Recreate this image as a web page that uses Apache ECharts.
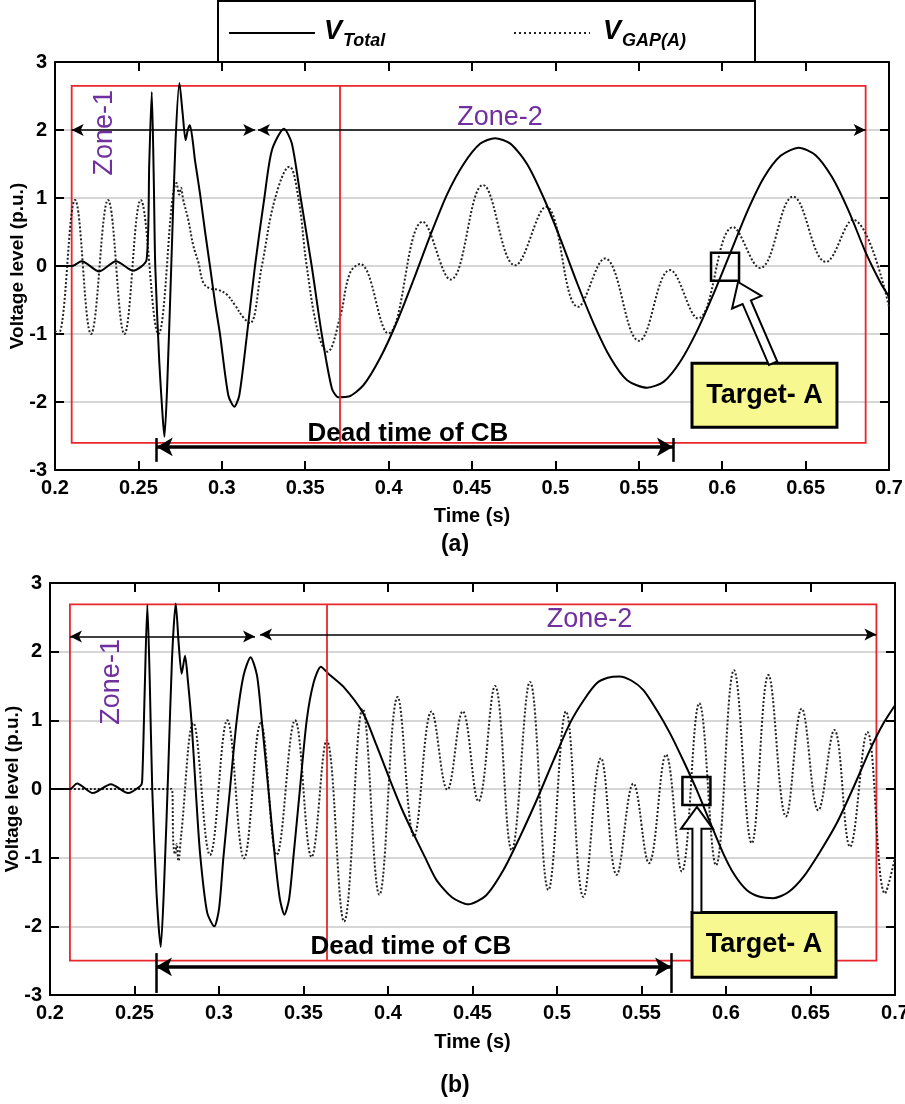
<!DOCTYPE html>
<html><head><meta charset="utf-8">
<script src="https://cdn.jsdelivr.net/npm/echarts@6/dist/echarts.min.js"></script>
<style>html,body{margin:0;padding:0;background:#fff}#main{width:905px;height:1104px}</style>
</head><body><div id="main"></div>
<script>
// ---------------- DATA (time s, voltage p.u.) ----------------
const xTickRange = [0.2, 0.7, 0.05];
const yTickRange = [-3, 3, 1];

const totalA = [
 [0.200,0.00],[0.210,0.00],[0.216,0.07],[0.2265,-0.08],[0.2366,0.07],[0.2467,-0.07],[0.2549,0.09],
 [0.2565,1.5],[0.2580,2.56],[0.2592,1.3],[0.2601,0.0],[0.2625,-1.4],[0.2645,-2.2],[0.2656,-2.51],
 [0.2672,-1.8],[0.2697,0.0],[0.2722,1.8],[0.2746,2.69],[0.2765,2.25],[0.2783,1.85],[0.2796,2.0],
 [0.2809,2.07],[0.2825,1.85],[0.2839,1.56],[0.2855,1.3],[0.2869,1.07],[0.2900,0.5],[0.2929,0.0],
 [0.2960,-0.55],[0.2989,-1.0],[0.3039,-1.9],[0.3075,-2.07],[0.3105,-1.9],[0.3149,-1.05],[0.3199,0.0],
 [0.3255,1.0],[0.3300,1.7],[0.3373,2.02],[0.3420,1.8],[0.3473,1.0],[0.3539,0.0],[0.3599,-1.0],
 [0.3660,-1.8],[0.3699,-1.93],[0.3760,-1.92],[0.3850,-1.75],[0.3950,-1.35],[0.4050,-0.82],
 [0.4150,-0.2],[0.4250,0.45],[0.4350,1.05],[0.4450,1.5],[0.4550,1.8],[0.4638,1.88],[0.4730,1.8],
 [0.4830,1.5],[0.4930,1.0],[0.5030,0.4],[0.5130,-0.25],[0.5230,-0.85],[0.5330,-1.35],[0.5430,-1.68],
 [0.5550,-1.79],[0.5650,-1.7],[0.5750,-1.4],[0.5850,-0.95],[0.5950,-0.4],[0.6050,0.2],[0.6150,0.8],
 [0.6250,1.3],[0.6350,1.62],[0.6460,1.74],[0.6560,1.63],[0.6660,1.3],[0.6760,0.8],[0.6860,0.2],
 [0.6950,-0.25],[0.7000,-0.45]
];
const gapA = [
 [0.200,-0.95],[0.202,-1.0],[0.212,0.97],[0.2216,-1.0],[0.2318,0.97],[0.2416,-1.0],[0.2514,0.97],
 [0.2620,-1.0],[0.2729,1.22],[0.2745,1.05],[0.2755,1.15],[0.2769,0.97],[0.2799,0.68],[0.2829,0.3],
 [0.2860,0.05],[0.2890,-0.25],[0.2930,-0.33],[0.2979,-0.35],[0.3030,-0.42],[0.3080,-0.58],
 [0.3130,-0.76],[0.3169,-0.84],[0.3240,0.0],[0.3320,1.0],[0.3405,1.46],[0.3459,1.0],[0.3509,0.0],
 [0.3579,-1.0],[0.3633,-1.26],[0.3709,-0.75],[0.3769,-0.1],[0.3829,0.03],[0.3998,-0.99],[0.4204,0.65],
 [0.4372,-0.2],[0.4566,1.19],[0.4758,0.01],[0.4944,0.87],[0.5136,-0.6],[0.5297,0.11],[0.5501,-1.1],
 [0.5687,-0.06],[0.5855,-0.77],[0.6065,0.57],[0.6227,-0.03],[0.6425,1.02],[0.6622,0.06],[0.6784,0.68],
 [0.7000,-0.6]
];
const totalB = [
 [0.200,0.0],[0.2118,0.0],[0.216,0.08],[0.2254,-0.06],[0.236,0.07],[0.2462,-0.06],[0.2533,0.04],
 [0.2545,0.1],[0.2560,1.4],[0.2576,2.68],[0.2590,1.6],[0.2605,0.0],[0.2630,-1.5],[0.2655,-2.3],
 [0.2675,-1.4],[0.2700,0.3],[0.2722,1.9],[0.2744,2.7],[0.2762,2.1],[0.2779,1.68],[0.2799,1.94],
 [0.2815,1.6],[0.2838,0.96],[0.2862,0.0],[0.2888,-0.94],[0.2930,-1.8],[0.2972,-2.0],[0.3000,-1.75],
 [0.3026,-1.0],[0.3065,0.0],[0.3105,1.0],[0.3145,1.65],[0.3187,1.92],[0.3225,1.65],[0.3253,1.0],
 [0.3292,0.0],[0.3331,-1.0],[0.3360,-1.6],[0.3387,-1.83],[0.3415,-1.6],[0.3440,-1.0],[0.3479,0.0],
 [0.3519,1.0],[0.3560,1.55],[0.3603,1.78],[0.3647,1.68],[0.3736,1.49],[0.3854,1.1],[0.3930,0.65],
 [0.4012,0.13],[0.4080,-0.28],[0.4150,-0.65],[0.4220,-1.0],[0.4288,-1.33],[0.4380,-1.58],[0.4475,-1.68],
 [0.4580,-1.55],[0.4683,-1.18],[0.4780,-0.7],[0.4880,-0.16],[0.4980,0.42],[0.5077,0.96],[0.5160,1.3],
 [0.5235,1.54],[0.5300,1.62],[0.5369,1.64],[0.5440,1.58],[0.5511,1.44],[0.5590,1.15],[0.5669,0.81],
 [0.5750,0.4],[0.5826,-0.01],[0.5905,-0.48],[0.5984,-0.94],[0.6050,-1.25],[0.6122,-1.47],[0.6200,-1.57],
 [0.6280,-1.59],[0.6370,-1.5],[0.6458,-1.28],[0.6555,-0.92],[0.6655,-0.5],[0.6750,0.0],[0.6852,0.57],
 [0.6930,0.95],[0.7000,1.22]
];
const gapB = [
 [0.200,0.0],[0.2720,0.0],[0.2730,-0.8],[0.2740,-0.95],[0.2750,-0.8],[0.2760,-1.05],[0.2775,-0.7],
 [0.2848,0.96],[0.2947,-0.96],[0.3049,1.0],[0.3148,-1.01],[0.3247,0.96],[0.3341,-0.96],[0.3450,1.0],
 [0.3548,-0.99],[0.3637,0.71],[0.3740,-1.93],[0.3850,1.17],[0.3949,-1.54],[0.4057,1.34],[0.4154,-0.69],
 [0.4258,1.13],[0.4351,-0.01],[0.4442,1.13],[0.4535,-0.18],[0.4633,1.5],[0.4732,-0.89],[0.4840,1.56],
 [0.4949,-1.47],[0.5053,1.13],[0.5156,-1.57],[0.5260,0.45],[0.5353,-1.25],[0.5452,0.08],[0.5544,-1.08],
 [0.5645,0.5],[0.5738,-1.2],[0.5842,1.25],[0.5941,-1.11],[0.6047,1.73],[0.6152,-0.79],[0.6251,1.66],
 [0.6355,-0.4],[0.6448,1.17],[0.6546,-0.31],[0.6641,0.86],[0.6734,-0.84],[0.6836,0.83],[0.6941,-1.52],
 [0.7000,-1.0]
];

// annotation anchors (data coordinates)
const annotA = {
  rect: [[0.21, 2.65], [0.686, -2.6]], divider: 0.371,
  zone1: [[0.21, 2.0], [0.32, 2.0]], zone2: [[0.3217, 2.0], [0.686, 2.0]],
  dead: [[0.261, -2.66], [0.5705, -2.66]], deadBar: [-2.53, -2.88],
  zone1Label: [0.23, 1.96], zone2Label: [0.4668, 2.19], deadLabel: [0.4116, -2.47],
  square: [0.6017, -0.01], box: [[0.5819, -1.43], [0.6688, -2.37]],
  arrowTail: [0.6305, -1.43], arrowTip: [0.6095, -0.235]
};
const annotB = {
  rect: [[0.2118, 2.69], [0.689, -2.5]], divider: 0.364,
  zone1: [[0.2118, 2.22], [0.3213, 2.22]], zone2: [[0.3243, 2.25], [0.689, 2.25]],
  dead: [[0.2627, -2.59], [0.5675, -2.59]], deadBar: [-2.39, -2.97],
  zone1Label: [0.2367, 1.56], zone2Label: [0.5192, 2.47], deadLabel: [0.4136, -2.30],
  square: [0.5825, -0.03], box: [[0.5799, -1.80], [0.6651, -2.74]],
  arrowTail: [0.5828, -1.80], arrowTip: [0.5828, -0.26]
};

// ---------------- STYLE ----------------
const FF = "'Liberation Sans', Arial, Helvetica, sans-serif";
const RED = '#e8262b', PURPLE = '#7030a0';
const chart = echarts.init(document.getElementById('main'));

function fmtX(v) { return String(Math.round(v * 100) / 100); }

function xAxes(gi, gap) {
  const base = { type: 'value', gridIndex: gi, min: xTickRange[0], max: xTickRange[1], interval: xTickRange[2],
    axisLine: { show: true, onZero: false, lineStyle: { color: '#000', width: 2 } },
    axisTick: { show: true, inside: true, length: 9, lineStyle: { color: '#000', width: 2 } },
    splitLine: { show: false } };
  return [
    Object.assign({}, base, { position: 'bottom',
      axisLabel: { color: '#000', fontSize: 20, fontWeight: 'bold', fontFamily: FF, margin: 8, formatter: fmtX },
      name: 'Time (s)', nameLocation: 'middle', nameGap: gap, nameMoveOverlap: false,
      nameTextStyle: { color: '#000', fontSize: 20, fontWeight: 'bold', fontFamily: FF } }),
    Object.assign({}, base, { position: 'top', axisLabel: { show: false } })
  ];
}
function yAxes(gi, gap) {
  const base = { type: 'value', gridIndex: gi, min: yTickRange[0], max: yTickRange[1], interval: yTickRange[2],
    axisLine: { show: true, onZero: false, lineStyle: { color: '#000', width: 2 } },
    axisTick: { show: true, inside: true, length: 9, lineStyle: { color: '#000', width: 2 } } };
  return [
    Object.assign({}, base, { position: 'left',
      splitLine: { show: true, lineStyle: { color: '#d6d6d6', width: 2 } },
      axisLabel: { color: '#000', fontSize: 20, fontWeight: 'bold', fontFamily: FF, margin: 8 },
      name: 'Voltage level (p.u.)', nameLocation: 'middle', nameGap: gap, nameMoveOverlap: false,
      nameTextStyle: { color: '#000', fontSize: 19, fontWeight: 'bold', fontFamily: FF } }),
    Object.assign({}, base, { position: 'right', splitLine: { show: false }, axisLabel: { show: false } })
  ];
}

function seg(p0, p1, style, s0, s1, size) {
  return [
    { coord: p0, symbol: s0 || 'none', symbolSize: size || 10, lineStyle: style },
    { coord: p1, symbol: s1 || 'none', symbolSize: size || 10 }
  ];
}
function textPt(coord, text, lab) {
  return { coord: coord, symbol: 'rect', symbolSize: 1, itemStyle: { color: 'rgba(0,0,0,0)' },
    label: Object.assign({ show: true, position: 'inside', formatter: text, fontFamily: FF }, lab) };
}
function marks(a) {
  const thin = { color: '#000', width: 1.5, type: 'solid' };
  const thick = { color: '#000', width: 3.5, type: 'solid' };
  const red = { color: RED, width: 1.8, type: 'solid' };
  return {
    markArea: { silent: true, label: { show: false },
      itemStyle: { color: 'rgba(0,0,0,0)', borderColor: RED, borderWidth: 1.8 },
      data: [[{ coord: a.rect[0] }, { coord: a.rect[1] }]] },
    markLine: { silent: true, animation: false, label: { show: false }, symbol: ['none', 'none'],
      data: [
        seg([a.divider, a.rect[1][1]], [a.divider, a.rect[0][1]], red),
        seg(a.zone1[0], a.zone1[1], thin, 'arrow', 'arrow', [9, 12]),
        seg(a.zone2[0], a.zone2[1], thin, 'arrow', 'arrow', [9, 12]),
        seg(a.dead[0], a.dead[1], thick, 'arrow', 'arrow', [14, 16]),
        seg([a.dead[0][0], a.deadBar[0]], [a.dead[0][0], a.deadBar[1]], { color: '#000', width: 2.5, type: 'solid' }),
        seg([a.dead[1][0], a.deadBar[0]], [a.dead[1][0], a.deadBar[1]], { color: '#000', width: 2.5, type: 'solid' })
      ] },
    markPoint: { silent: true, animation: false,
      data: [
        textPt(a.zone1Label, 'Zone-1', { color: PURPLE, fontSize: 27, rotate: 90 }),
        textPt(a.zone2Label, 'Zone-2', { color: PURPLE, fontSize: 27 }),
        textPt(a.deadLabel, 'Dead time of CB', { color: '#000', fontSize: 26, fontWeight: 'bold' }),
        { coord: a.square, symbol: 'rect', symbolSize: 28, label: { show: false },
          itemStyle: { color: 'rgba(0,0,0,0)', borderColor: '#000', borderWidth: 2.5 } }
      ] }
  };
}

const solid = { color: '#000', width: 2 };
const dotted = { color: '#222', width: 2, type: [2, 2] };

const option = {
  animation: false,
  backgroundColor: '#fff',
  grid: [
    { left: 55, top: 62, width: 834, height: 408, containLabel: false, outerBoundsMode: 'none' },
    { left: 50, top: 583, width: 845, height: 412, containLabel: false, outerBoundsMode: 'none' }
  ],
  xAxis: xAxes(0, 36).concat(xAxes(1, 37)),
  yAxis: yAxes(0, 28).concat(yAxes(1, 28)),
  series: [
    Object.assign({ type: 'line', name: 'VGAP_a', xAxisIndex: 0, yAxisIndex: 0, data: gapA, showSymbol: false, symbol: 'none',
      smooth: 0.4, lineStyle: dotted, z: 3 }),
    Object.assign({ type: 'line', name: 'VTotal_a', xAxisIndex: 0, yAxisIndex: 0, data: totalA, showSymbol: false, symbol: 'none',
      smooth: 0.25, lineStyle: solid, z: 4 }, marks(annotA)),
    Object.assign({ type: 'line', name: 'VGAP_b', xAxisIndex: 2, yAxisIndex: 2, data: gapB, showSymbol: false, symbol: 'none',
      smooth: 0.4, lineStyle: dotted, z: 3 }),
    Object.assign({ type: 'line', name: 'VTotal_b', xAxisIndex: 2, yAxisIndex: 2, data: totalB, showSymbol: false, symbol: 'none',
      smooth: 0.25, lineStyle: solid, z: 4 }, marks(annotB))
  ]
};
chart.setOption(option);

// ---------------- graphic overlays (positions from data coords) ----------------
function px(gi, p) { return chart.convertToPixel({ xAxisIndex: gi * 2, yAxisIndex: gi * 2 }, p); }
function hollowArrow(gi, a) {
  const T = px(gi, a.arrowTail), P = px(gi, a.arrowTip);
  const dx = P[0] - T[0], dy = P[1] - T[1], L = Math.hypot(dx, dy);
  const ux = dx / L, uy = dy / L, nx = -uy, ny = ux;
  const sw = 4.5, hw = 16, hl = 22;
  const bx = P[0] - ux * hl, by = P[1] - uy * hl;
  return { type: 'polygon', z: 20, shape: { points: [
      [T[0] + nx * sw, T[1] + ny * sw], [bx + nx * sw, by + ny * sw], [bx + nx * hw, by + ny * hw], P,
      [bx - nx * hw, by - ny * hw], [bx - nx * sw, by - ny * sw], [T[0] - nx * sw, T[1] - ny * sw]] },
    style: { fill: '#fff', stroke: '#000', lineWidth: 2 } };
}
function targetBox(gi, a) {
  const p0 = px(gi, a.box[0]), p1 = px(gi, a.box[1]);
  return [
    { type: 'rect', z: 1, shape: { x: p0[0], y: p0[1], width: p1[0] - p0[0], height: p1[1] - p0[1] },
      style: { fill: '#f8f890', stroke: '#000', lineWidth: 3 } },
    { type: 'text', z: 25, x: (p0[0] + p1[0]) / 2, y: (p0[1] + p1[1]) / 2,
      style: { text: 'Target- A', fill: '#000', font: 'bold 27px ' + FF, textAlign: 'center', textVerticalAlign: 'middle' } }
  ];
}
const textStyle = (t, font) => ({ text: t, fill: '#000', font: font, textAlign: 'left', textVerticalAlign: 'middle' });
const graphics = [
  // legend
  { type: 'rect', z: 30, shape: { x: 218, y: 1, width: 537, height: 61 }, style: { fill: '#fff', stroke: '#000', lineWidth: 2 } },
  { type: 'line', z: 31, shape: { x1: 229, y1: 33, x2: 315, y2: 33 }, style: { stroke: '#000', lineWidth: 2 } },
  { type: 'text', z: 31, x: 324, y: 32, style: textStyle('V', 'italic bold 27px ' + FF) },
  { type: 'text', z: 31, x: 343, y: 41, style: textStyle('Total', 'italic bold 18px ' + FF) },
  { type: 'line', z: 31, shape: { x1: 514, y1: 33, x2: 590, y2: 33 }, style: { stroke: '#222', lineWidth: 2, lineDash: [2, 3] } },
  { type: 'text', z: 31, x: 603, y: 32, style: textStyle('V', 'italic bold 27px ' + FF) },
  { type: 'text', z: 31, x: 622, y: 41, style: textStyle('GAP(A)', 'italic bold 18px ' + FF) },
  // captions
  { type: 'text', z: 31, x: 455, y: 545, style: { text: '(a)', fill: '#000', font: 'bold 23px ' + FF, textAlign: 'center', textVerticalAlign: 'middle' } },
  { type: 'text', z: 31, x: 455, y: 1086, style: { text: '(b)', fill: '#000', font: 'bold 23px ' + FF, textAlign: 'center', textVerticalAlign: 'middle' } },
  hollowArrow(0, annotA), hollowArrow(1, annotB)
].concat(targetBox(0, annotA), targetBox(1, annotB));
chart.setOption({ graphic: graphics });
</script>
</body></html>
